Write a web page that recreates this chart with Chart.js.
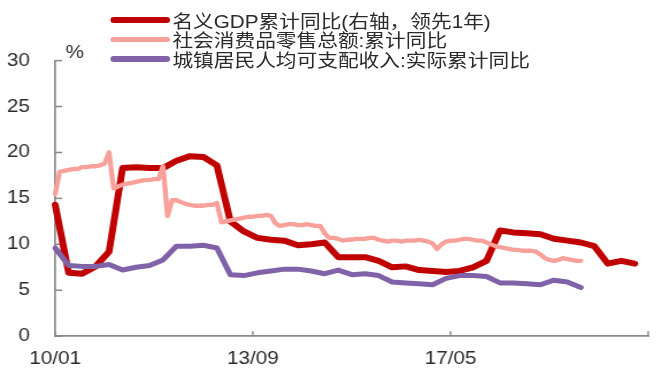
<!DOCTYPE html>
<html>
<head>
<meta charset="utf-8">
<script src="https://cdn.jsdelivr.net/npm/chart.js@4"></script>
<style>
  body { margin: 0; background: #fff; }
  #wrap { position: relative; width: 576px; height: 369px; transform: scaleX(1.1493); transform-origin: 0 0; }
  #legend { position: absolute; left: 96px; top: 10px; font: 18px "Liberation Sans", "Noto Sans CJK SC", sans-serif; color: #2a2a2a; }
  .row { display: flex; align-items: center; height: 19.5px; white-space: nowrap; }
  .swatch { width: 52px; border-radius: 3px; margin-right: 2px; }
</style>
</head>
<body>
<div id="wrap">
  <canvas id="chart"></canvas>
  <div id="legend"></div>
</div>
<script>
// monthly axis 2010/01 .. 2021/01
const months = [];
for (let y = 2010; y <= 2021; y++) {
  for (let m = 1; m <= 12; m++) {
    if (y === 2021 && m > 1) break;
    months.push(String(y).slice(2) + '/' + String(m).padStart(2, '0'));
  }
}
const quarterMonths = months.filter((_, i) => i % 3 === 0);

const tickLabels = ['10/01', '13/09', '17/05'];
const tickMarks = ['10/01', '13/09', '17/05', '21/01'];

const seriesNames = [
  '名义GDP累计同比(右轴，领先1年)',
  '社会消费品零售总额:累计同比',
  '城镇居民人均可支配收入:实际累计同比'
];

// quarterly, shifted one year ahead
const gdpValues = [14.3, 6.9, 6.8, 7.6, 9.2, 18.3, 18.4, 18.3, 18.3, 19.1,
  19.6, 19.5, 18.6, 12.5, 11.4, 10.7, 10.5, 10.4, 9.9, 10.0,
  10.2, 8.6, 8.6, 8.6, 8.2, 7.5, 7.6, 7.2, 7.1, 7.0,
  7.1, 7.5, 8.2, 11.5, 11.3, 11.2, 11.1, 10.6, 10.4, 10.2,
  9.8, 7.9, 8.2, 7.9];

// monthly
const retailValues = [15.5, 17.9, 18.0, 18.1, 18.2, 18.2, 18.4, 18.4, 18.5, 18.5,
  18.6, 18.8, 20.0, 16.1, 16.3, 16.5, 16.6, 16.7, 16.8, 16.9,
  17.0, 17.0, 17.1, 17.1, 18.5, 13.1, 14.8, 14.8, 14.6, 14.4,
  14.3, 14.2, 14.2, 14.2, 14.3, 14.3, 14.5, 12.4, 12.5, 12.6,
  12.7, 12.8, 12.9, 13.0, 13.0, 13.1, 13.1, 13.2, 13.1, 12.3,
  12.0, 12.1, 12.2, 12.2, 12.1, 12.1, 12.2, 12.1, 12.0, 12.0,
  11.2, 10.7, 10.7, 10.6, 10.4, 10.5, 10.5, 10.6, 10.6, 10.6,
  10.7, 10.7, 10.5, 10.4, 10.3, 10.4, 10.4, 10.3, 10.4, 10.4,
  10.4, 10.5, 10.4, 10.3, 10.1, 9.5, 10.0, 10.3, 10.4, 10.4,
  10.5, 10.6, 10.6, 10.5, 10.4, 10.4, 10.2, 10.0, 9.8, 9.7,
  9.6, 9.5, 9.4, 9.4, 9.3, 9.3, 9.3, 9.2, 8.9, 8.5,
  8.3, 8.2, 8.3, 8.5, 8.4, 8.3, 8.2, 8.2];

// quarterly
const incomeValues = [9.6, 7.7, 7.6, 7.6, 7.8, 7.2, 7.5, 7.7, 8.3, 9.8,
  9.8, 9.9, 9.6, 6.7, 6.6, 6.9, 7.1, 7.3, 7.3, 7.1,
  6.8, 7.2, 6.7, 6.8, 6.6, 5.9, 5.8, 5.7, 5.6, 6.3,
  6.6, 6.6, 6.5, 5.8, 5.8, 5.7, 5.6, 6.1, 5.9, 5.3];

const colors = ['#C00000', '#F8A09A', '#7F62A8'];
const widths = [6, 4.3, 5];
const axisColor = '#8a8a8a';
const textColor = '#2a2a2a';
const fontFamily = '"Liberation Sans", "Noto Sans CJK SC", sans-serif';

const toPoints = (dates, values) => values.map((v, i) => ({ x: dates[i], y: v }));

// inward tick marks and the unit label
const axisMarks = {
  id: 'axisMarks',
  beforeDatasetsDraw(chart) {
    const { ctx, chartArea, scales } = chart;
    ctx.save();
    ctx.strokeStyle = axisColor;
    ctx.lineWidth = 1.5;
    scales.y.ticks.forEach(t => {
      const y = scales.y.getPixelForValue(t.value);
      ctx.beginPath();
      ctx.moveTo(chartArea.left, y);
      ctx.lineTo(chartArea.left + 6, y);
      ctx.stroke();
    });
    tickMarks.forEach(label => {
      const x = scales.x.getPixelForValue(months.indexOf(label));
      ctx.beginPath();
      ctx.moveTo(x, chartArea.bottom);
      ctx.lineTo(x, chartArea.bottom - 5);
      ctx.stroke();
    });
    ctx.fillStyle = textColor;
    ctx.font = '18px ' + fontFamily;
    ctx.textBaseline = 'alphabetic';
    ctx.fillText('%', chartArea.left + 9, chartArea.top - 3);
    ctx.restore();
  }
};

const chart = new Chart(document.getElementById('chart'), {
  type: 'line',
  data: {
    labels: months,
    datasets: [
      { label: seriesNames[0], data: toPoints(quarterMonths, gdpValues), yAxisID: 'y1', order: 3 },
      { label: seriesNames[1], data: toPoints(months, retailValues), yAxisID: 'y', order: 2 },
      { label: seriesNames[2], data: toPoints(quarterMonths, incomeValues), yAxisID: 'y', order: 1 }
    ].map((d, i) => Object.assign(d, {
      borderColor: colors[i],
      backgroundColor: colors[i],
      borderWidth: widths[i],
      pointRadius: 0,
      tension: 0,
      borderJoinStyle: 'round',
      borderCapStyle: 'round'
    }))
  },
  options: {
    responsive: true,
    maintainAspectRatio: false,
    animation: false,
    layout: { padding: { top: 60.6, right: 8, bottom: 0, left: 0 } },
    plugins: { legend: { display: false }, tooltip: { enabled: false } },
    scales: {
      x: {
        type: 'category',
        grid: { display: false, drawTicks: false },
        border: { color: axisColor, width: 1.7 },
        afterFit: s => { s.height = 30; },
        ticks: {
          autoSkip: false,
          maxRotation: 0,
          padding: 12,
          color: textColor,
          font: { family: fontFamily, size: 18 },
          callback: (v) => tickLabels.includes(months[v]) ? months[v] : ''
        }
      },
      y: {
        min: 0,
        max: 30,
        grid: { display: false, drawTicks: false },
        border: { color: axisColor, width: 1.7 },
        afterFit: s => { s.width = 48; },
        ticks: {
          stepSize: 5,
          padding: 22,
          color: textColor,
          font: { family: fontFamily, size: 18 }
        }
      },
      y1: { min: 0, max: 30, display: false, position: 'right' }
    }
  },
  plugins: [axisMarks]
});

// legend rows
const legend = document.getElementById('legend');
chart.data.datasets.forEach((d, i) => {
  const row = document.createElement('div');
  row.className = 'row';
  const sw = document.createElement('span');
  sw.className = 'swatch';
  sw.style.background = d.borderColor;
  sw.style.height = (d.borderWidth + 0.5) + 'px';
  const txt = document.createElement('span');
  txt.textContent = d.label;
  row.appendChild(sw);
  row.appendChild(txt);
  legend.appendChild(row);
});
</script>
</body>
</html>
